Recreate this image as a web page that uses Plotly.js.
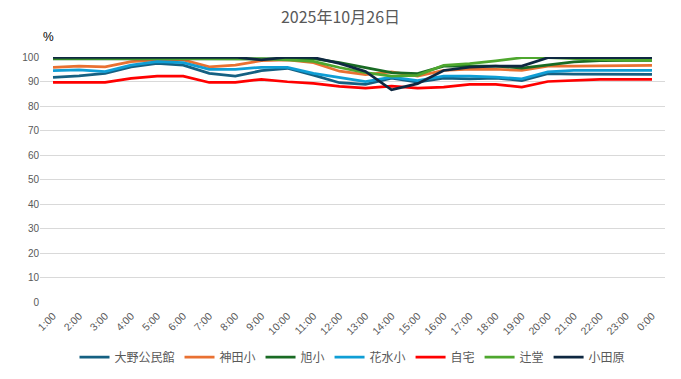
<!DOCTYPE html>
<html>
<head>
<meta charset="utf-8">
<script src="https://cdn.plot.ly/plotly-3.0.1.min.js"></script>
<style>html,body{margin:0;padding:0;background:#fff;}#chart{width:681px;height:379px;}</style>
</head>
<body>
<div id="chart"></div>
<script>
var hours = ["1:00","2:00","3:00","4:00","5:00","6:00","7:00","8:00","9:00","10:00","11:00","12:00","13:00","14:00","15:00","16:00","17:00","18:00","19:00","20:00","21:00","22:00","23:00","0:00"];
var seriesNames = ["大野公民館","神田小","旭小","花水小","自宅","辻堂","小田原"];
var seriesColors = ["#156082","#E97132","#196B24","#0F9ED5","#FF0000","#4EA72E","#0E2841"];
var ono     = [91.7,92.3,93.3,96.0,97.4,96.7,93.3,92.2,94.4,95.4,92.6,89.5,88.8,91.4,89.8,91.4,91.1,91.4,90.4,93.2,93.0,92.9,92.9,92.9];
var kanda   = [95.8,96.3,96.0,98.1,98.8,98.8,96.0,96.7,98.5,98.8,97.7,94.2,92.8,93.9,92.2,94.5,95.0,95.0,94.5,96.3,96.3,96.5,96.6,96.6];
var asahi   = [99.2,99.2,99.2,99.2,99.2,99.2,99.2,99.2,99.2,99.3,99.3,97.7,95.5,93.6,93.2,96.3,96.3,96.3,95.5,96.6,98.0,98.5,98.6,98.6];
var hanamizu= [94.4,94.7,94.0,96.7,98.1,97.7,95.0,95.0,95.8,95.8,93.3,91.5,90.0,91.8,90.4,92.2,92.2,91.8,91.1,93.9,94.5,94.5,94.5,94.5];
var jitaku  = [89.6,89.6,89.6,91.3,92.2,92.2,89.6,89.6,90.9,89.9,89.2,88.0,87.3,88.1,87.3,87.7,88.8,88.8,87.7,90.0,90.5,90.9,90.9,90.9];
var tsujido = [99.5,99.5,99.5,99.5,99.5,99.5,99.5,99.5,99.2,98.8,98.2,95.7,93.6,92.2,92.5,96.6,97.3,98.4,99.7,99.7,99.3,98.8,98.6,98.6];
var odawara = [99.9,99.9,99.9,99.9,99.9,99.9,99.9,99.9,98.8,99.9,99.8,97.4,94.1,86.6,89.1,94.5,95.9,96.3,96.3,99.7,99.7,99.7,99.7,99.7];
var yTicks = [0,10,20,30,40,50,60,70,80,90,100];

var allSeries = [ono,kanda,asahi,hanamizu,jitaku,tsujido,odawara];
var traces = allSeries.map(function(vals,i){
  return {
    type:'scatter', mode:'lines', name:seriesNames[i], x:hours, y:vals,
    line:{color:seriesColors[i], width:2.75}
  };
});

var font = "Liberation Sans, 'Noto Sans CJK JP', sans-serif";
var layout = {
  width:681, height:379,
  margin:{l:40, r:16, t:57, b:77},
  paper_bgcolor:'#ffffff', plot_bgcolor:'#ffffff',
  font:{family:font, color:'#595959', size:10},
  title:{text:'2025年10月26日', font:{family:"'Noto Sans CJK JP', sans-serif", size:16, color:'#595959'}, x:0.5, xanchor:'center', y:0.955, yanchor:'middle', yref:'container'},
  xaxis:{type:'category', range:[-0.5,23.5], tickangle:-45, showgrid:false, zeroline:false, showline:false, ticks:'', ticklabelstandoff:5, tickfont:{size:10.5, color:'#595959'}, fixedrange:true},
  yaxis:{range:[0,100], tickvals:yTicks, showgrid:true, gridcolor:'#d9d9d9', gridwidth:1, zeroline:false, showline:false, ticks:'', tickfont:{size:10, color:'#595959'}, fixedrange:true},
  showlegend:true,
  legend:{orientation:'h', x:0.5, xanchor:'center', y:0.058, yanchor:'middle', yref:'container', font:{family:"'Noto Sans CJK JP', sans-serif", size:12, color:'#595959'}, itemwidth:30, tracegroupgap:0},
  annotations:[{text:'%', xref:'paper', yref:'paper', x:0.013, y:1+20/245, xanchor:'center', yanchor:'middle', showarrow:false, font:{size:12, color:'#000000', family:font}}]
};
Plotly.newPlot('chart', traces, layout, {displayModeBar:false, staticPlot:true});
</script>
</body>
</html>
